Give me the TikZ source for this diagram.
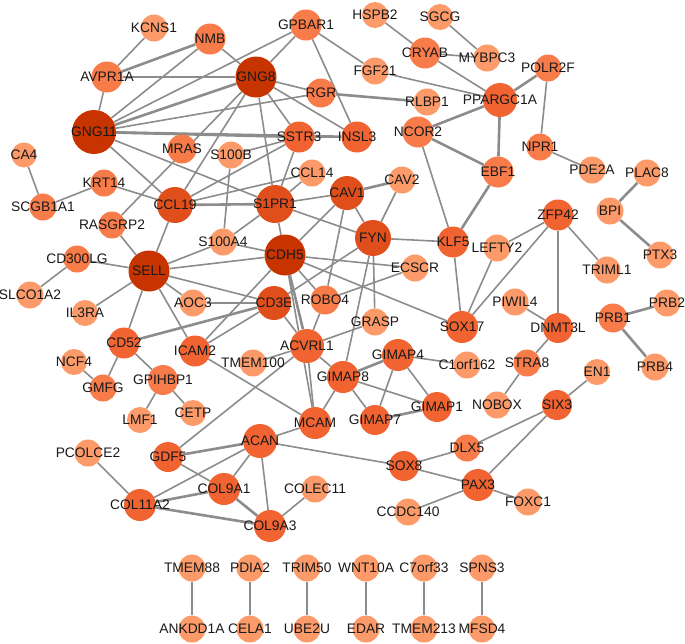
\documentclass[tikz,border=0pt]{standalone}
\usepackage{fontspec}
\setmainfont{Liberation Sans}
\usetikzlibrary{backgrounds}
\definecolor{c1}{RGB}{200,52,0}
\definecolor{c2}{RGB}{224,78,28}
\definecolor{c3}{RGB}{241,100,50}
\definecolor{c4}{RGB}{248,124,74}
\definecolor{c5}{RGB}{252,155,105}
\definecolor{edgegray}{RGB}{140,140,140}
\tikzset{
  gene/.style={circle, inner sep=0pt, minimum size=#1, draw=none},
  gene/.default=27pt,
  every label/.style={font=\fontsize{13.8}{14}\selectfont, text=black!90, inner sep=0pt},
  edge/.style={draw=edgegray, line width=1.6pt},
  wide/.style={draw=edgegray, line width=2.6pt},
}
\begin{document}
\begin{tikzpicture}[x=1pt,y=-1pt]
    \useasboundingbox (0,0) rectangle (685,643);
    %% upper left cluster
    \node[gene, fill=c5, label={center:KCNS1}] (KCNS1) at (154,28) {};
    \node[gene=31pt, fill=c4, label={center:NMB}] (NMB) at (210,39) {};
    \node[gene=31pt, fill=c4, label={center:GPBAR1}] (GPBAR1) at (306,25) {};
    \node[gene=31pt, fill=c4, label={center:AVPR1A}] (AVPR1A) at (107,77) {};
    \node[gene=41pt, fill=c1, label={center:GNG8}] (GNG8) at (256,77) {};
    \node[gene=29pt, fill=c4, label={center:RGR}] (RGR) at (321,93) {};
    \node[gene=44pt, fill=c1, label={center:GNG11}] (GNG11) at (94,132) {};
    \node[gene=31pt, fill=c3, label={center:SSTR3}] (SSTR3) at (299,137) {};
    \node[gene=31pt, fill=c3, label={center:INSL3}] (INSL3) at (357,137) {};
    \node[gene=29pt, fill=c4, label={center:MRAS}] (MRAS) at (182,149) {};
    \node[gene, fill=c5, label={center:S100B}] (S100B) at (231,155) {};
    \node[gene=25pt, fill=c5, label={center:CA4}] (CA4) at (24,155) {};
    \node[gene, fill=c5, label={center:CCL14}] (CCL14) at (312,173) {};
    \node[gene, fill=c4, label={center:KRT14}] (KRT14) at (104,183) {};
    \node[gene, fill=c4, label={center:SCGB1A1}] (SCGB1A1) at (43,207) {};
    \node[gene=36pt, fill=c2, label={center:CCL19}] (CCL19) at (175,205) {};
    \node[gene=38pt, fill=c2, label={center:S1PR1}] (S1PR1) at (275,204) {};
    \node[gene=34pt, fill=c2, label={center:CAV1}] (CAV1) at (347,193) {};
    \node[gene, fill=c4, label={center:RASGRP2}] (RASGRP2) at (112,225) {};
    %% upper right cluster
    \node[gene=26pt, fill=c5, label={center:HSPB2}] (HSPB2) at (375,15) {};
    \node[gene=26pt, fill=c5, label={center:SGCG}] (SGCG) at (440,17) {};
    \node[gene=31pt, fill=c4, label={center:CRYAB}] (CRYAB) at (425,53) {};
    \node[gene, fill=c5, label={center:MYBPC3}] (MYBPC3) at (487,58) {};
    \node[gene, fill=c5, label={center:FGF21}] (FGF21) at (375,71) {};
    \node[gene, fill=c4, label={center:POLR2F}] (POLR2F) at (548,68) {};
    \node[gene, fill=c5, label={center:RLBP1}] (RLBP1) at (427,102) {};
    \node[gene=34pt, fill=c3, label={center:PPARGC1A}] (PPARGC1A) at (500,100) {};
    \node[gene=31pt, fill=c4, label={center:NCOR2}] (NCOR2) at (418,132) {};
    \node[gene, fill=c4, label={center:NPR1}] (NPR1) at (540,147) {};
    \node[gene=31pt, fill=c4, label={center:EBF1}] (EBF1) at (498,172) {};
    \node[gene, fill=c5, label={center:PDE2A}] (PDE2A) at (592,170) {};
    \node[gene, fill=c5, label={center:PLAC8}] (PLAC8) at (647,173) {};
    \node[gene, fill=c5, label={center:CAV2}] (CAV2) at (402,180) {};
    \node[gene, fill=c5, label={center:BPI}] (BPI) at (610,211) {};
    \node[gene=31pt, fill=c3, label={center:ZFP42}] (ZFP42) at (558,215) {};
    %% middle band
    \node[gene=36pt, fill=c2, label={center:FYN}] (FYN) at (373,238) {};
    \node[gene=31pt, fill=c3, label={center:KLF5}] (KLF5) at (453,242) {};
    \node[gene, fill=c5, label={center:LEFTY2}] (LEFTY2) at (497,248) {};
    \node[gene, fill=c5, label={center:ECSCR}] (ECSCR) at (415,268) {};
    \node[gene, fill=c5, label={center:TRIML1}] (TRIML1) at (607,270) {};
    \node[gene, fill=c5, label={center:PTX3}] (PTX3) at (660,255) {};
    \node[gene, fill=c5, label={center:PIWIL4}] (PIWIL4) at (515,302) {};
    \node[gene, fill=c5, label={center:PRB2}] (PRB2) at (667,303) {};
    \node[gene=29pt, fill=c4, label={center:PRB1}] (PRB1) at (613,318) {};
    \node[gene=32pt, fill=c3, label={center:SOX17}] (SOX17) at (462,327) {};
    \node[gene=30pt, fill=c3, label={center:DNMT3L}] (DNMT3L) at (558,328) {};
    \node[gene, fill=c5, label={center:GRASP}] (GRASP) at (375,322) {};
    \node[gene, fill=c5, label={center:S100A4}] (S100A4) at (223,242) {};
    \node[gene=41pt, fill=c1, label={center:CDH5}] (CDH5) at (285,255) {};
    \node[gene=41pt, fill=c1, label={center:SELL}] (SELL) at (149,271) {};
    \node[gene, fill=c4, label={center:CD300LG}] (CD300LG) at (77,259) {};
    \node[gene, fill=c5, label={center:SLCO1A2}] (SLCO1A2) at (30,295) {};
    \node[gene, fill=c5, label={center:AOC3}] (AOC3) at (193,303) {};
    \node[gene=34pt, fill=c2, label={center:CD3E}] (CD3E) at (274,303) {};
    \node[gene=29pt, fill=c4, label={center:ROBO4}] (ROBO4) at (325,300) {};
    \node[gene=26pt, fill=c5, label={center:IL3RA}] (IL3RA) at (85,313) {};
    %% lower middle
    \node[gene=31pt, fill=c3, label={center:CD52}] (CD52) at (124,343) {};
    \node[gene=31pt, fill=c3, label={center:ICAM2}] (ICAM2) at (195,351) {};
    \node[gene=34pt, fill=c3, label={center:ACVRL1}] (ACVRL1) at (307,346) {};
    \node[gene, fill=c5, label={center:TMEM100}] (TMEM100) at (253,363) {};
    \node[gene=26pt, fill=c5, label={center:NCF4}] (NCF4) at (74,362) {};
    \node[gene, fill=c4, label={center:GMFG}] (GMFG) at (103,388) {};
    \node[gene=30pt, fill=c4, label={center:GPIHBP1}] (GPIHBP1) at (163,380) {};
    \node[gene=32pt, fill=c3, label={center:GIMAP4}] (GIMAP4) at (398,355) {};
    \node[gene, fill=c5, label={center:C1orf162}] (C1orf162) at (467,365) {};
    \node[gene, fill=c4, label={center:STRA8}] (STRA8) at (527,363) {};
    \node[gene, fill=c5, label={center:PRB4}] (PRB4) at (655,367) {};
    \node[gene=26pt, fill=c5, label={center:EN1}] (EN1) at (597,372) {};
    \node[gene=32pt, fill=c3, label={center:GIMAP8}] (GIMAP8) at (343,377) {};
    \node[gene, fill=c5, label={center:NOBOX}] (NOBOX) at (497,405) {};
    \node[gene=30pt, fill=c3, label={center:SIX3}] (SIX3) at (557,405) {};
    \node[gene=30pt, fill=c3, label={center:GIMAP1}] (GIMAP1) at (437,407) {};
    \node[gene=30pt, fill=c3, label={center:GIMAP7}] (GIMAP7) at (375,420) {};
    \node[gene=26pt, fill=c5, label={center:LMF1}] (LMF1) at (140,420) {};
    \node[gene=26pt, fill=c5, label={center:CETP}] (CETP) at (193,413) {};
    \node[gene=32pt, fill=c3, label={center:MCAM}] (MCAM) at (315,423) {};
    %% collagen and pax cluster
    \node[gene=34pt, fill=c3, label={center:ACAN}] (ACAN) at (260,441) {};
    \node[gene, fill=c5, label={center:PCOLCE2}] (PCOLCE2) at (88,453) {};
    \node[gene=30pt, fill=c3, label={center:GDF5}] (GDF5) at (168,457) {};
    \node[gene=32pt, fill=c3, label={center:COL9A1}] (COL9A1) at (224,489) {};
    \node[gene, fill=c5, label={center:COLEC11}] (COLEC11) at (315,489) {};
    \node[gene=32pt, fill=c3, label={center:COL11A2}] (COL11A2) at (140,505) {};
    \node[gene=32pt, fill=c3, label={center:COL9A3}] (COL9A3) at (270,526) {};
    \node[gene, fill=c4, label={center:DLX5}] (DLX5) at (467,448) {};
    \node[gene=30pt, fill=c3, label={center:SOX8}] (SOX8) at (404,466) {};
    \node[gene=32pt, fill=c3, label={center:PAX3}] (PAX3) at (478,485) {};
    \node[gene, fill=c5, label={center:FOXC1}] (FOXC1) at (528,502) {};
    \node[gene, fill=c5, label={center:CCDC140}] (CCDC140) at (408,512) {};
    %% pairs along the bottom
    \foreach \top/\bot/\x in {TMEM88/ANKDD1A/192, PDIA2/CELA1/250, TRIM50/UBE2U/307,
                              WNT10A/EDAR/366, C7orf33/TMEM213/424, SPNS3/MFSD4/482} {
        \node[gene, fill=c5, label={center:\top}] (\top) at (\x,568) {};
        \node[gene, fill=c5, label={center:\bot}] (\bot) at (\x,629) {};
    }
    \begin{scope}[on background layer]
        \foreach \a/\b in {KCNS1/AVPR1A, NMB/GNG11, NMB/GNG8, AVPR1A/GNG11, GPBAR1/GNG11,
            GPBAR1/GNG8, GPBAR1/INSL3, GPBAR1/FGF21, GNG8/RGR, GNG8/SSTR3, GNG8/INSL3,
            GNG8/S1PR1, GNG8/CCL19, GNG8/RASGRP2, GNG11/RGR, GNG11/CCL19, GNG11/S1PR1,
            SSTR3/S100B, SSTR3/CCL19, SSTR3/S1PR1, S100B/S100A4, CCL14/CCL19,
            CCL14/S1PR1, KRT14/CCL19, KRT14/SCGB1A1, SCGB1A1/CA4, CCL19/SELL,
            S1PR1/CAV1, S1PR1/S100A4, S1PR1/CDH5, S1PR1/FYN, CAV1/FYN, CAV1/CDH5,
            CAV1/ROBO4, CAV2/FYN, FYN/KLF5, FYN/GRASP, FYN/CD3E, FYN/GIMAP8,
            CDH5/ECSCR, CDH5/SOX17, CDH5/ROBO4, CDH5/MCAM, CDH5/ICAM2, CDH5/SELL,
            CDH5/S100A4, S100A4/SELL, SELL/RASGRP2, SELL/CD300LG, SELL/IL3RA, SELL/AOC3,
            SELL/CD3E, SELL/CD52, SELL/ICAM2, CD300LG/SLCO1A2, AOC3/CD3E, CD3E/ICAM2,
            CD3E/ACVRL1, ROBO4/ECSCR, ROBO4/ACVRL1, ACVRL1/GRASP, ACVRL1/TMEM100,
            ACVRL1/MCAM, ACVRL1/GIMAP8, ACVRL1/GDF5, ICAM2/MCAM, CD52/GMFG,
            CD52/GPIHBP1, NCF4/GMFG, GPIHBP1/LMF1, GPIHBP1/CETP, MCAM/ACAN, MCAM/GIMAP8,
            GIMAP8/GIMAP7, GIMAP8/GIMAP1, GIMAP4/GIMAP7, GIMAP4/GIMAP1, GIMAP4/C1orf162,
            ACAN/COL9A1, ACAN/COL11A2, ACAN/COL9A3, ACAN/SOX8, GDF5/COL9A1,
            COLEC11/COL9A3, PCOLCE2/COL11A2, SOX8/DLX5, SOX8/PAX3, SIX3/DLX5, SIX3/PAX3,
            SIX3/EN1, PAX3/FOXC1, PAX3/CCDC140, KLF5/SOX17, KLF5/NCOR2, SOX17/LEFTY2,
            SOX17/ZFP42, ZFP42/LEFTY2, ZFP42/DNMT3L, ZFP42/TRIML1, DNMT3L/PIWIL4,
            DNMT3L/STRA8, STRA8/NOBOX, PPARGC1A/CRYAB, PPARGC1A/FGF21, POLR2F/NPR1,
            NPR1/PDE2A, CRYAB/HSPB2, CRYAB/MYBPC3, SGCG/MYBPC3,
            TMEM88/ANKDD1A, PDIA2/CELA1, WNT10A/EDAR, C7orf33/TMEM213, SPNS3/MFSD4}
            \draw[edge] (\a) -- (\b);
        %% heavier links
        \foreach \a/\b in {GNG11/GNG8, GNG11/SSTR3, GNG11/INSL3, GNG8/AVPR1A, NMB/AVPR1A,
            SSTR3/INSL3, CCL19/S1PR1, RGR/RLBP1, CAV1/CAV2, CD52/CD3E, CDH5/ACVRL1,
            GIMAP8/GIMAP4, GIMAP7/GIMAP1, ACAN/GDF5, COL11A2/COL9A1, COL11A2/COL9A3,
            COL9A1/COL9A3, PPARGC1A/POLR2F, PPARGC1A/NCOR2, PPARGC1A/EBF1, NCOR2/EBF1,
            KLF5/EBF1, BPI/PLAC8, BPI/PTX3, PRB1/PRB2, PRB1/PRB4, TRIM50/UBE2U}
            \draw[wide] (\a) -- (\b);
    \end{scope}
\end{tikzpicture}
\end{document}
